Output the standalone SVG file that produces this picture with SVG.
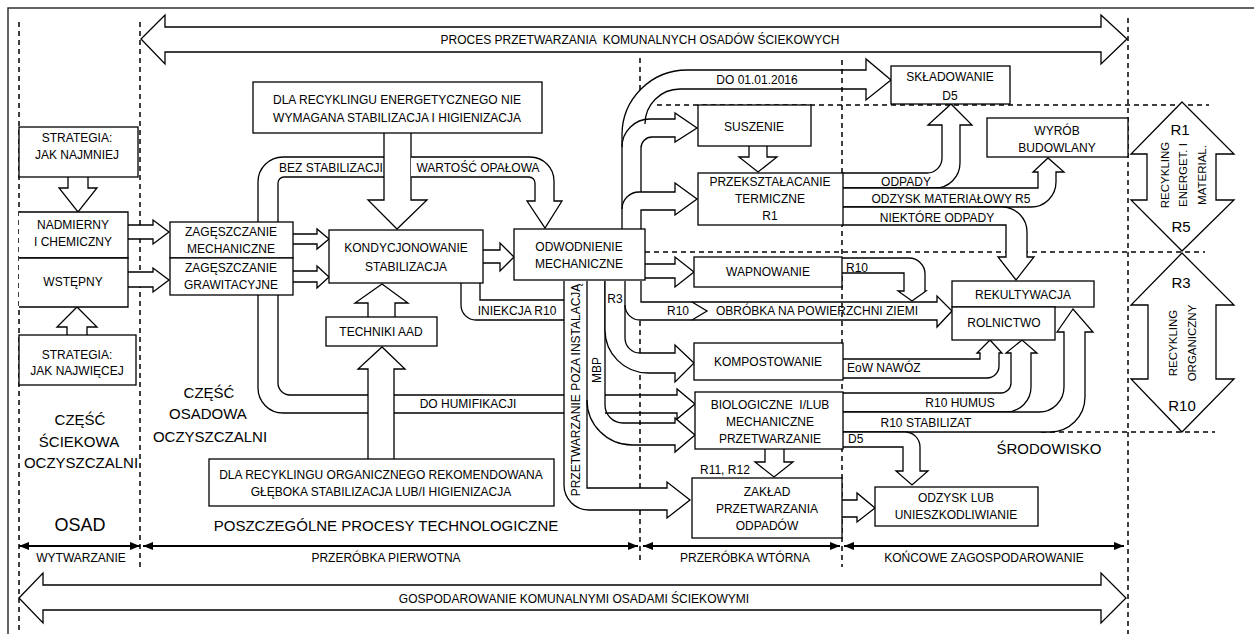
<svg xmlns="http://www.w3.org/2000/svg" width="1254" height="634" viewBox="0 0 1254 634">
<defs>
<marker id="ah" viewBox="0 0 10 8" refX="10" refY="4" markerWidth="11" markerHeight="8" markerUnits="userSpaceOnUse" orient="auto-start-reverse"><path d="M0,0 L10,4 L0,8 z" fill="#000"/></marker>
</defs>
<style>
.bx{fill:#fff;stroke:#000;stroke-width:1.3}
.ln{fill:none;stroke:#000;stroke-width:1.3}
.ar{fill:#fff;stroke:#000;stroke-width:1.3}
.ds{fill:none;stroke:#000;stroke-width:1.5;stroke-dasharray:5 4}
.dm{fill:none;stroke:#000;stroke-width:2}
text{font-family:"Liberation Sans",Arial,sans-serif;font-size:12px;fill:#000;text-anchor:middle}
.l{text-anchor:start}
.big{font-size:15px}
.rl{font-size:15px}
.rv{font-size:11.5px}
</style>
<rect x="0" y="0" width="1254" height="634" fill="#fff"/>
<rect x="8" y="8" width="1260" height="640" fill="none" stroke="#333" stroke-width="1.5"/>

<g id="grid">
<path class="ds" d="M19,22 V634 M140,22 V567 M640,58 V90 M640,321 V563 M842,60 V567 M1128,18 V634"/>
<path class="ds" d="M657,105 H1209 M645,252 H1205 M1041,432 H1215"/>
</g>

<g id="scope-arrows">
<path class="ar" d="M141,39 L165,15 V27 H1101 V15 L1127,39 L1101,64 V52 H165 V64 Z"/>
<path class="ar" d="M19,598 L43,573 V585 H1101 V573 L1126,598 L1101,623 V610 H43 V623 Z"/>
<line class="dm" x1="19" y1="546" x2="140" y2="546" marker-start="url(#ah)" marker-end="url(#ah)"/>
<line class="dm" x1="143" y1="546" x2="638" y2="546" marker-start="url(#ah)" marker-end="url(#ah)"/>
<line class="dm" x1="643" y1="546" x2="840" y2="546" marker-start="url(#ah)" marker-end="url(#ah)"/>
<line class="dm" x1="844" y1="546" x2="1124" y2="546" marker-start="url(#ah)" marker-end="url(#ah)"/>
<path class="ar" d="M1182,102 L1234,154 H1216 V200 H1234 L1182,251 L1131,200 H1147 V154 H1131 Z"/>
<path class="ar" d="M1182,253 L1234,305 H1216 V379 H1234 L1182,432 L1131,379 H1148 V305 H1131 Z"/>
</g>

<g id="connectors">
<path class="ar" d="M68,177 V188 H59 L78,212 L97,188 H88 V177"/>
<path class="ar" d="M67,335 V327 H57 L77,307 L97,327 H87 V335"/>
<path class="ar" d="M128,225 H153 V220 L169,232 L153,244 V239 H128"/>
<path class="ar" d="M128,272 H153 V268 L169,280 L153,292 V287 H128"/>
<path class="ar" d="M293,234 H317 V229 L329,239 L317,249 V244 H293"/>
<path class="ar" d="M293,271 H317 V266 L329,277 L317,288 V282 H293"/>
<path class="ar" d="M483,250 H500 V243 L514,257 L500,271 V263 H483"/>
<path class="ar" d="M645,264 H675 V257 L694,272 L675,287 V278 H645"/>
<path class="ar" d="M384,133 V200 H368 L397,229 L427,200 H411 V133"/>
<path class="ln" d="M258,222 V182 A25,25 0 0 1 283,157 H384 M278,222 V183 A6,6 0 0 1 284,177 H384"/>
<path class="ar" d="M411,157 H530 A24,24 0 0 1 554,181 V201 H562 L545,228 L527,201 H535 V183 A6,6 0 0 0 529,177 H411"/>
<path class="ar" d="M368,317 V303 H355 L382,284 L408,303 H395 V317"/>
<path class="ar" d="M368,459 V369 H358 L382,347 L405,369 H394 V459"/>
<path class="ln" d="M258,295 V388 A25,25 0 0 0 283,413 H368 M394,413 H564 M278,295 V383 A12,12 0 0 0 290,395 H368 M394,395 H564"/>
<path class="ln" d="M461,283 V305 A15,15 0 0 0 476,320 H564 M480,283 V300 H564"/>
<path class="ar" d="M564,281 V485 A25,25 0 0 0 589,510 H667 V518 L690,500 L667,482 V488 H587 V281"/>
<path class="ln" d="M605,395 H677 V389 L695,404 L677,419 V413 H605"/>
<path class="ln" d="M587,400 A45,45 0 0 0 632,445 H675 V452 L695,435 L675,418 V423 H623 A18,18 0 0 1 605,405 V281"/>
<path class="ar" d="M605,281 V330 A43,43 0 0 0 648,373 H675 V382 L694,363 L675,345 V353 H640 A15,15 0 0 1 625,338 V281"/>
<path class="ln" d="M641,281 V302 H937 V296 L952,311 L937,327 V320 H640 A15,15 0 0 1 625,305"/>
<path class="ln" d="M692,302 L707,311 L692,320"/>
<path class="ln" d="M622,229 V135 A65,65 0 0 1 687,70 H866 V59 L891,80 L866,100 V89 H680 A35,35 0 0 0 645,124"/>
<path class="ln" d="M622,147 A28,28 0 0 1 650,119 H675 V113 L697,128 L675,142 V137 H652 A11,11 0 0 0 641,148 V192"/>
<path class="ln" d="M622,209 A17,17 0 0 1 639,192 H675 V183 L697,199 L675,215 V210 H641 V229"/>
<path class="ar" d="M749,146 V157 H739 L758,172 L777,157 H767 V146"/>
<path class="ar" d="M843,173 H927 A15,15 0 0 0 942,158 V125 H928 L951,104 L972,125 H960 V163 A25,25 0 0 1 935,188 H843"/>
<path class="ar" d="M843,188 H1038 V172 H1033 L1048,158 L1064,172 H1056 V182 A25,25 0 0 1 1031,207 H843"/>
<path class="ar" d="M843,207 H1002 A25,25 0 0 1 1027,232 V257 H1034 L1016,280 L998,257 H1006 V225 H843"/>
<path class="ar" d="M842,258 H909 A16,16 0 0 1 925,274 V291 H926 L912,301 L898,291 H904 V273 H842"/>
<path class="ar" d="M843,359 H980 V353 H977 L990,340 L1002,353 H999 V366 A12,12 0 0 1 987,378 H843"/>
<path class="ar" d="M843,393 H1001 A10,10 0 0 0 1011,383 V353 H1006 L1022,340 L1037,353 H1031 V387 A25,25 0 0 1 1006,412 H843"/>
<path class="ar" d="M843,412 H1039 A25,25 0 0 0 1064,387 V332 H1057 L1073,309 L1093,332 H1085 V397 A35,35 0 0 1 1050,432 H843"/>
<path class="ar" d="M843,432 H905 A15,15 0 0 1 920,447 V471 H928 L912,485 L896,471 H903 V447 H843"/>
<path class="ar" d="M765,449 V462 H755 L774,477 L793,462 H784 V449"/>
<path class="ar" d="M842,500 H857 V493 L875,508 L857,522 V517 H842"/>
</g>

<g id="n-strat1"><rect class="bx" x="19" y="127" width="119" height="50"/><text x="77" y="142">STRATEGIA:</text><text x="77" y="159">JAK NAJMNIEJ</text></g>
<g id="n-nadm"><path class="bx" d="M19,212 H128 V258 H19"/><text x="73" y="229">NADMIERNY</text><text x="73" y="246">I CHEMICZNY</text></g>
<g id="n-wstep"><path class="bx" d="M19,258 H128 V307 H19"/><text x="73" y="286">WSTĘPNY</text></g>
<g id="n-strat2"><rect class="bx" x="19" y="335" width="117" height="50"/><text x="77" y="359">STRATEGIA:</text><text x="77" y="375">JAK NAJWIĘCEJ</text></g>
<g id="n-zagm"><rect class="bx" x="170" y="222" width="123" height="36"/><text x="231" y="236">ZAGĘSZCZANIE</text><text x="231" y="253">MECHANICZNE</text></g>
<g id="n-zagg"><rect class="bx" x="170" y="258" width="123" height="37"/><text x="231" y="272">ZAGĘSZCZANIE</text><text x="231" y="289">GRAWITACYJNE</text></g>
<g id="n-kond"><rect class="bx" x="329" y="230" width="154" height="53"/><text x="406" y="252">KONDYCJONOWANIE</text><text x="406" y="271">STABILIZACJA</text></g>
<g id="n-dlae"><rect class="bx" x="253" y="82" width="289" height="51"/><text x="397" y="104">DLA RECYKLINGU ENERGETYCZNEGO NIE</text><text x="397" y="122">WYMAGANA STABILIZACJA I HIGIENIZACJA</text></g>
<g id="n-tech"><rect class="bx" x="326" y="317" width="111" height="29"/><text x="381" y="336">TECHNIKI AAD</text></g>
<g id="n-dlao"><rect class="bx" x="209" y="459" width="345" height="47"/><text x="381" y="479">DLA RECYKLINGU ORGANICZNEGO REKOMENDOWANA</text><text x="381" y="496">GŁĘBOKA STABILIZACJA LUB/I HIGIENIZACJA</text></g>
<g id="n-odw"><rect class="bx" x="514" y="229" width="131" height="51"/><text x="579" y="251">ODWODNIENIE</text><text x="579" y="268">MECHANICZNE</text></g>
<g id="n-skl"><rect class="bx" x="891" y="66" width="119" height="38"/><text x="950" y="81">SKŁADOWANIE</text><text x="950" y="100">D5</text></g>
<g id="n-susz"><rect class="bx" x="698" y="105" width="113" height="41"/><text x="754" y="131">SUSZENIE</text></g>
<g id="n-przek"><rect class="bx" x="698" y="173" width="145" height="52"/><text x="770" y="186">PRZEKSZTAŁACANIE</text><text x="770" y="203">TERMICZNE</text><text x="770" y="220">R1</text></g>
<g id="n-wyrob"><rect class="bx" x="987" y="118" width="141" height="39"/><text x="1057" y="135">WYRÓB</text><text x="1057" y="152">BUDOWLANY</text></g>
<g id="n-wapn"><rect class="bx" x="694" y="257" width="148" height="30"/><text x="768" y="276">WAPNOWANIE</text></g>
<g id="n-rekul"><rect class="bx" x="952" y="281" width="142" height="26"/><text x="1023" y="299">REKULTYWACJA</text></g>
<g id="n-roln"><rect class="bx" x="952" y="307" width="103" height="33"/><text x="1004" y="327">ROLNICTWO</text></g>
<g id="n-komp"><rect class="bx" x="694" y="343" width="149" height="37"/><text x="768" y="366">KOMPOSTOWANIE</text></g>
<g id="n-biol"><rect class="bx" x="695" y="392" width="148" height="57"/><text x="770" y="409" xml:space="preserve">BIOLOGICZNE  I/LUB</text><text x="770" y="426">MECHANICZNE</text><text x="770" y="443">PRZETWARZANIE</text></g>
<g id="n-zakl"><rect class="bx" x="692" y="478" width="150" height="60"/><text x="767" y="496">ZAKŁAD</text><text x="767" y="513">PRZETWARZANIA</text><text x="767" y="530">ODPADÓW</text></g>
<g id="n-odz"><rect class="bx" x="875" y="487" width="163" height="39"/><text x="956" y="502">ODZYSK LUB</text><text x="956" y="519">UNIESZKODLIWIANIE</text></g>

<g id="labels">
<text x="640" y="44" xml:space="preserve">PROCES PRZETWARZANIA  KOMUNALNYCH OSADÓW ŚCIEKOWYCH</text>
<text x="574" y="603">GOSPODAROWANIE KOMUNALNYMI OSADAMI ŚCIEKOWYMI</text>
<text x="81" y="562">WYTWARZANIE</text>
<text x="386" y="562">PRZERÓBKA PIERWOTNA</text>
<text x="745" y="562">PRZERÓBKA WTÓRNA</text>
<text x="984" y="562">KOŃCOWE ZAGOSPODAROWANIE</text>
<text x="80" y="531" style="font-size:18px">OSAD</text>
<text class="big" x="80" y="425">CZĘŚĆ</text>
<text class="big" x="79" y="447">ŚCIEKOWA</text>
<text class="big" x="81" y="468">OCZYSZCZALNI</text>
<text class="big" x="209" y="398">CZĘŚĆ</text>
<text class="big" x="208" y="419">OSADOWA</text>
<text class="big" x="210" y="442">OCZYSZCZALNI</text>
<text class="big" x="386" y="531">POSZCZEGÓLNE PROCESY TECHNOLOGICZNE</text>
<text class="big" x="1049" y="454">ŚRODOWISKO</text>
<text x="331" y="172">BEZ STABILIZACJI</text>
<text x="478" y="172">WARTOŚĆ OPAŁOWA</text>
<text x="517" y="315">INIEKCJA R10</text>
<text x="468" y="408">DO HUMIFIKACJI</text>
<text transform="translate(580,390) rotate(-90)">PRZETWARZANIE POZA INSTALACJĄ</text>
<text transform="translate(601,370) rotate(-90)">MBP</text>
<text x="615" y="303">R3</text>
<text x="678" y="315">R10</text>
<text x="817" y="315">OBRÓBKA NA POWIERZCHNI ZIEMI</text>
<text x="757" y="84">DO 01.01.2016</text>
<text x="906" y="186">ODPADY</text>
<text x="951" y="203">ODZYSK MATERIAŁOWY R5</text>
<text x="937" y="222">NIEKTÓRE ODPADY</text>
<text class="l" x="846" y="272">R10</text>
<text class="l" x="847" y="372">EoW NAWÓZ</text>
<text x="960" y="407">R10 HUMUS</text>
<text x="926" y="427">R10 STABILIZAT</text>
<text class="l" x="848" y="443">D5</text>
<text class="l" x="700" y="474">R11, R12</text>
<text class="rl" x="1180" y="135">R1</text>
<text class="rl" x="1181" y="232">R5</text>
<text class="rl" x="1181" y="288">R3</text>
<text class="rl" x="1182" y="411">R10</text>
<text class="rv" transform="translate(1169,175) rotate(-90)">RECYKLING</text>
<text class="rv" transform="translate(1187,175) rotate(-90)">ENERGET. I</text>
<text class="rv" transform="translate(1206,175) rotate(-90)">MATERIAL.</text>
<text class="rv" transform="translate(1177,343) rotate(-90)">RECYKLING</text>
<text class="rv" transform="translate(1196,343) rotate(-90)">ORGANICZNY</text>
</g>
</svg>
